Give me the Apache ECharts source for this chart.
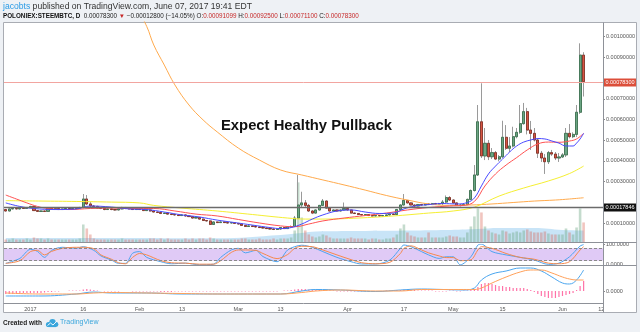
<!DOCTYPE html>
<html>
<head>
<meta charset="utf-8">
<script src="https://cdn.jsdelivr.net/npm/echarts/dist/echarts.min.js"></script>
<style>
html,body{margin:0;padding:0;background:#eef1f5;}
#c{width:640px;height:332px;}
</style>
</head>
<body>
<div id="c"></div>
<script>
// POLONIEX:STEEMBTC daily candles, 2016-12-25 .. 2017-06-07 (axis runs to 2017-06-12)
const startDate = '2016-12-25';
const dayCount = 170;

const open = [
0.000165,0.000158,0.000168,0.00017,0.000168,0.000172,0.00017,0.000175,0.00018,0.00016,
0.000156,0.000158,0.000156,0.000172,0.000168,0.00017,0.000165,0.000168,0.00017,0.000168,
0.00017,0.000172,0.000175,0.000216,0.000192,0.000182,0.00018,0.000172,0.00017,0.000165,
0.000168,0.000165,0.000163,0.000168,0.000175,0.00017,0.000168,0.000165,0.000168,0.000165,
0.00016,0.000163,0.000158,0.000153,0.000151,0.000146,0.000148,0.000143,0.000141,0.000139,
0.000136,0.000139,0.000134,0.000131,0.000124,0.000127,0.000119,0.000112,0.00011,0.000093,
0.000105,0.000102,0.000105,0.000102,0.0001,0.000102,0.000098,0.000095,0.000088,0.000083,
0.000086,0.000083,0.000081,0.000078,0.000076,0.000073,0.000071,0.000069,0.000071,0.000078,
0.000073,0.000081,0.000083,0.000124,0.000187,0.000197,0.000185,0.000158,0.000148,0.000163,
0.000185,0.000206,0.000172,0.000158,0.000163,0.000158,0.000163,0.00017,0.000163,0.000148,
0.000146,0.000141,0.000139,0.000141,0.000136,0.000134,0.000136,0.000134,0.000136,0.000139,
0.000143,0.000141,0.000165,0.000187,0.000209,0.000197,0.000187,0.000182,0.000189,0.000187,
0.000192,0.000189,0.000194,0.000192,0.000194,0.000201,0.000223,0.000211,0.000197,0.000185,
0.000187,0.000189,0.000214,0.000257,0.000332,0.000589,0.000424,0.000485,0.00042,0.00044,
0.000409,0.00042,0.000514,0.000461,0.000472,0.000517,0.000538,0.00058,0.000638,0.000549,
0.000533,0.000501,0.000437,0.000414,0.000396,0.00044,0.000433,0.000414,0.000419,0.000429,
0.000533,0.000517,0.000528,0.000635,0.00091099
];
const close = [
0.000158,0.000168,0.00017,0.000168,0.000172,0.00017,0.000175,0.00018,0.00016,0.000156,
0.000158,0.000156,0.000172,0.000168,0.00017,0.000165,0.000168,0.00017,0.000168,0.00017,
0.000172,0.000175,0.000216,0.000192,0.000182,0.00018,0.000172,0.00017,0.000165,0.000168,
0.000165,0.000163,0.000168,0.000175,0.00017,0.000168,0.000165,0.000168,0.000165,0.00016,
0.000163,0.000158,0.000153,0.000151,0.000146,0.000148,0.000143,0.000141,0.000139,0.000136,
0.000139,0.000134,0.000131,0.000124,0.000127,0.000119,0.000112,0.00011,0.000093,0.000105,
0.000102,0.000105,0.000102,0.0001,0.000102,0.000098,0.000095,0.000088,0.000083,0.000086,
0.000083,0.000081,0.000078,0.000076,0.000073,0.000071,0.000069,0.000071,0.000078,0.000073,
0.000081,0.000083,0.000124,0.000187,0.000197,0.000185,0.000158,0.000148,0.000163,0.000185,
0.000206,0.000172,0.000158,0.000163,0.000158,0.000163,0.00017,0.000163,0.000148,0.000146,
0.000141,0.000139,0.000141,0.000136,0.000134,0.000136,0.000134,0.000136,0.000139,0.000143,
0.000141,0.000165,0.000187,0.000209,0.000197,0.000187,0.000182,0.000189,0.000187,0.000192,
0.000189,0.000194,0.000192,0.000194,0.000201,0.000223,0.000211,0.000197,0.000185,0.000187,
0.000189,0.000214,0.000257,0.000332,0.000589,0.000424,0.000485,0.00042,0.00044,0.000409,
0.00042,0.000514,0.000461,0.000472,0.000517,0.000538,0.00058,0.000638,0.000549,0.000533,
0.000501,0.000437,0.000414,0.000396,0.00044,0.000433,0.000414,0.000419,0.000429,0.000533,
0.000517,0.000528,0.000635,0.000911,0.000783
];
const low = [
0.000155,0.000156,0.000166,0.000166,0.000166,0.000168,0.000168,0.000173,0.000158,0.000153,
0.000153,0.000153,0.000155,0.000165,0.000166,0.000163,0.000163,0.000166,0.000165,0.000166,
0.000168,0.00017,0.000172,0.000187,0.000177,0.000176,0.00017,0.000167,0.000162,0.000163,
0.000162,0.00016,0.000161,0.000166,0.000167,0.000165,0.000163,0.000163,0.000163,0.000158,
0.000158,0.000155,0.000151,0.000148,0.000143,0.000144,0.00014,0.000138,0.000136,0.000134,
0.000134,0.000131,0.000129,0.000122,0.000122,0.000117,0.00011,0.000107,0.00009,0.000091,
0.0001,0.0001,0.0001,0.000098,0.000098,0.000095,0.000093,0.000086,0.000081,0.000081,
0.000081,0.000078,0.000076,0.000073,0.000071,0.000068,0.000066,0.000066,0.000068,0.000071,
0.000071,0.000078,0.000081,0.000119,0.000177,0.000177,0.000153,0.000143,0.000146,0.00016,
0.000182,0.00017,0.000155,0.000156,0.000156,0.000156,0.00016,0.00016,0.000146,0.000143,
0.000138,0.000136,0.000136,0.000134,0.000131,0.000131,0.000131,0.000131,0.000134,0.000136,
0.000138,0.000139,0.000163,0.000185,0.000194,0.000185,0.000172,0.00018,0.000184,0.000185,
0.000187,0.000187,0.000189,0.000189,0.000187,0.000197,0.000206,0.000194,0.000182,0.00018,
0.000184,0.000187,0.000211,0.000252,0.000327,0.000414,0.000404,0.000404,0.000409,0.000404,
0.000398,0.000414,0.000453,0.000443,0.000465,0.000509,0.000531,0.000575,0.000528,0.000453,
0.000494,0.000414,0.000395,0.000337,0.000385,0.000424,0.000404,0.000395,0.000414,0.000419,
0.000509,0.00051,0.000515,0.000627,0.000711
];
const high = [
0.000168,0.00017,0.000173,0.000172,0.000174,0.000174,0.000177,0.000183,0.000182,0.000162,
0.00016,0.00016,0.000175,0.000174,0.000172,0.000172,0.00017,0.000172,0.000172,0.000173,
0.000175,0.000178,0.00024,0.000235,0.000201,0.000186,0.000183,0.000175,0.000172,0.00017,
0.00017,0.000167,0.00017,0.000178,0.000177,0.000172,0.00017,0.00017,0.00017,0.000167,
0.000165,0.000165,0.00016,0.000155,0.000153,0.00015,0.00015,0.000145,0.000143,0.000141,
0.000141,0.000141,0.000136,0.000133,0.000129,0.000129,0.000121,0.000114,0.000112,0.000108,
0.000107,0.000107,0.000107,0.000105,0.000105,0.000104,0.0001,0.000097,0.00009,0.000088,
0.000088,0.000086,0.000083,0.000081,0.000078,0.000076,0.000073,0.000073,0.00008,0.00008,
0.000083,0.000088,0.000134,0.000332,0.000251,0.000211,0.000192,0.000163,0.000165,0.000187,
0.000216,0.000209,0.000175,0.000165,0.000165,0.000165,0.000199,0.000172,0.000165,0.00015,
0.000148,0.000143,0.000143,0.000143,0.000139,0.000139,0.000138,0.000139,0.000141,0.000146,
0.000146,0.000168,0.00019,0.00024,0.000211,0.0002,0.00019,0.000192,0.000192,0.000194,
0.000194,0.000197,0.000197,0.000197,0.000211,0.000233,0.00023,0.000214,0.000199,0.000192,
0.000194,0.000218,0.000262,0.00038,0.00067,0.000775,0.000559,0.000501,0.000462,0.000448,
0.000428,0.000594,0.000573,0.000515,0.000565,0.000559,0.00067,0.00068,0.000656,0.000593,
0.000559,0.000509,0.000448,0.000433,0.000448,0.000453,0.000443,0.000438,0.000438,0.000559,
0.000578,0.000538,0.00067,0.000968,0.000925
];
// daily volume, BTC
const volume = [
60,60,80,60,60,60,80,60,100,80,80,60,80,60,60,60,60,60,60,60,60,80,
360,280,160,
80,60,60,60,60,60,60,60,80,60,60,60,60,
60,60,60,80,80,60,80,60,80,60,60,60,60,80,60,80,60,80,80,60,100,80,60,60,60,60,60,60,
60,80,80,60,60,60,80,60,60,60,80,60,80,80,80,100,
240,1200,500,240,160,120,100,120,160,140,100,
80,80,80,80,80,100,80,80,80,80,60,80,80,60,60,80,80,100,
160,280,360,200,140,120,
100,100,100,200,100,100,100,100,120,140,120,120,100,100,
200,320,520,680,600,320,240,
200,180,160,240,220,180,200,220,200,240,260,220,200,
200,200,220,180,160,160,160,160,
280,200,160,300,680,400
];
// volume moving average, [day index, BTC]
const volumeMA = [[0,90],[30,90],[60,85],[78,150],[84,190],[88,220],[100,230],[115,240],[125,250],[134,270],[140,290],[150,290],[158,250],[164,240]];

// moving averages on price, [day index, BTC]
const maFast = [[0,0.000197],[4,0.00018],[8,0.00017],[14,0.000165],[20,0.000168],[24,0.000182],[30,0.000177],[35,0.000168],[40,0.000165],[45,0.000153],[50,0.000139],[55,0.000129],[60,0.000114],[65,0.000102],[70,0.00009],[75,0.000078],[78,0.000073],[81,0.000078],[84,0.000095],[87,0.000119],[90,0.000139],[94,0.000158],[98,0.000163],[102,0.000153],[106,0.000146],[110,0.000148],[113,0.000168],[116,0.000182],[120,0.000189],[124,0.000194],[128,0.000192],[131,0.000199],[133,0.000221],[135,0.000279],[137,0.000337],[139,0.000375],[141,0.000409],[143,0.000443],[145,0.000472],[147,0.000491],[149,0.000501],[151,0.000508],[153,0.000506],[155,0.000496],[157,0.000486],[159,0.000472],[161,0.000472],[162,0.000486],[163,0.000506],[164,0.000533]];
const maMid = [[0,0.000235],[3,0.000216],[6,0.000197],[9,0.00018],[12,0.00017],[18,0.000165],[24,0.00017],[30,0.000172],[36,0.00017],[42,0.00017],[48,0.000158],[54,0.000143],[60,0.000134],[66,0.000117],[72,0.0001],[78,0.000086],[82,0.000082],[86,0.000095],[90,0.00011],[96,0.000124],[102,0.000136],[108,0.000148],[114,0.000163],[120,0.000175],[126,0.000182],[130,0.000185],[133,0.000204],[136,0.000279],[139,0.000337],[142,0.00038],[145,0.000416],[148,0.000453],[151,0.000482],[154,0.000491],[157,0.00049],[160,0.000496],[162,0.000506],[164,0.000533]];
const maSlow = [[0,0.000208],[10,0.000206],[20,0.000204],[30,0.000201],[38,0.000197],[42,0.000185],[50,0.000172],[60,0.000158],[70,0.000141],[80,0.000124],[85,0.000119],[90,0.000119],[100,0.000124],[110,0.000134],[120,0.000148],[127,0.000158],[133,0.000177],[140,0.00023],[147,0.000269],[154,0.000303],[160,0.000339],[164,0.000375]];
const maLong = [[36,0.00118],[40,0.00105],[42,0.00096],[45,0.000863],[48,0.000767],[52,0.00067],[56,0.000598],[60,0.00054],[66,0.000462],[72,0.000404],[78,0.000356],[84,0.000332],[90,0.000308],[96,0.000284],[102,0.000259],[108,0.000233],[114,0.000211],[120,0.000192],[126,0.000185],[132,0.000187],[138,0.000192],[144,0.000199],[150,0.000206],[156,0.000211],[160,0.000216],[164,0.000222]];
const levelLine = 0.00017846;

// Stoch RSI, [day index, value]
const stochK = [[0,7],[4,31],[7,75],[9,65],[11,36],[13,70],[16,85],[20,80],[22,88],[25,70],[27,43],[30,23],[32,7],[34,7],[36,56],[38,64],[40,36],[44,15],[47,5],[51,8],[55,0],[59,3],[61,36],[64,72],[66,80],[68,58],[71,70],[73,40],[77,15],[80,72],[82,88],[84,95],[87,85],[90,64],[94,36],[98,15],[101,4],[105,4],[109,23],[112,80],[113,96],[115,88],[118,64],[120,48],[123,31],[125,39],[127,39],[129,0],[132,39],[134,96],[135,100],[138,64],[142,48],[146,36],[150,23],[154,2],[157,8],[160,39],[163,91],[164,98]];
const stochD = [[0,7],[4,20],[7,64],[9,70],[11,48],[13,65],[16,80],[20,85],[22,85],[25,78],[27,48],[30,27],[32,10],[34,5],[36,36],[38,55],[40,48],[44,20],[47,10],[51,8],[55,3],[59,3],[61,20],[64,60],[66,72],[68,72],[71,70],[73,55],[77,30],[80,50],[82,80],[84,90],[87,88],[90,72],[94,48],[98,25],[101,10],[105,5],[109,12],[112,55],[113,80],[115,92],[118,72],[120,58],[123,43],[125,35],[127,35],[129,20],[132,24],[134,72],[135,88],[138,80],[142,55],[146,36],[150,27],[154,8],[157,5],[160,15],[163,72],[164,88]];

// MACD (12,26,9), [day index, value]
const macdLine = [[0,-0.0000208],[10,-0.0000208],[20,-0.0000125],[25,-0.0000042],[30,-0.0000083],[40,-0.0000083],[50,-0.0000125],[60,-0.0000125],[70,-0.0000125],[78,-0.0000125],[84,0],[88,0.0000063],[95,0.0000042],[105,-0.0000021],[112,0.0000042],[118,0.0000083],[124,0.0000063],[130,0.0000042],[133,0.0000125],[135,0.0000458],[138,0.0000708],[142,0.0000833],[146,0.0000958],[149,0.0000958],[152,0.0000833],[155,0.0000583],[158,0.0000333],[160,0.0000292],[162,0.0000458],[164,0.0000875]];
const signalLine = [[0,-0.0000083],[10,-0.0000125],[20,-0.0000125],[25,-0.0000083],[30,-0.0000063],[40,-0.0000083],[50,-0.0000104],[60,-0.0000125],[70,-0.0000125],[78,-0.0000125],[84,-0.0000063],[88,0],[95,0.0000042],[105,0],[112,0],[118,0.0000063],[124,0.0000063],[130,0.0000063],[133,0.0000063],[135,0.0000125],[138,0.0000333],[142,0.0000583],[146,0.0000792],[149,0.0000875],[152,0.0000875],[155,0.000075],[158,0.0000583],[160,0.00005],[162,0.0000458],[164,0.0000458]];
const macdHist = [
-1.25e-5,-1.25e-5,-1.25e-5,-1.04e-5,-1.04e-5,-8.3e-6,-8.3e-6,-8.3e-6,-8.3e-6,-8.3e-6,
-8.3e-6,-6.3e-6,-4.2e-6,-4.2e-6,-2.1e-6,-2.1e-6,0,0,2.1e-6,2.1e-6,
2.1e-6,2.1e-6,6.3e-6,8.3e-6,6.3e-6,4.2e-6,2.1e-6,0,-2.1e-6,-2.1e-6,
-2.1e-6,-2.1e-6,-2.1e-6,0,0,0,-2.1e-6,-2.1e-6,-2.1e-6,-2.1e-6,
-2.1e-6,-2.1e-6,-2.1e-6,-2.1e-6,-4.2e-6,-4.2e-6,-4.2e-6,-4.2e-6,-2.1e-6,-2.1e-6,
-2.1e-6,-2.1e-6,-2.1e-6,-2.1e-6,-2.1e-6,-2.1e-6,-2.1e-6,-2.1e-6,-2.1e-6,-2.1e-6,
-2.1e-6,-2.1e-6,-2.1e-6,-2.1e-6,-2.1e-6,-2.1e-6,-2.1e-6,-2.1e-6,-2.1e-6,-2.1e-6,
-2.1e-6,-2.1e-6,-2.1e-6,-2.1e-6,-2.1e-6,-2.1e-6,-2.1e-6,-2.1e-6,0,2.1e-6,
2.1e-6,4.2e-6,6.3e-6,8.3e-6,8.3e-6,8.3e-6,6.3e-6,6.3e-6,4.2e-6,4.2e-6,
2.1e-6,2.1e-6,2.1e-6,2.1e-6,-2.1e-6,-2.1e-6,-2.1e-6,-2.1e-6,-2.1e-6,-2.1e-6,
-2.1e-6,-2.1e-6,-2.1e-6,-2.1e-6,-2.1e-6,-2.1e-6,-2.1e-6,-2.1e-6,2.1e-6,2.1e-6,
2.1e-6,4.2e-6,4.2e-6,6.3e-6,6.3e-6,4.2e-6,4.2e-6,2.1e-6,2.1e-6,2.1e-6,
2.1e-6,2.1e-6,-2.1e-6,-2.1e-6,-2.1e-6,-2.1e-6,2.1e-6,2.1e-6,-2.1e-6,-2.1e-6,
2.1e-6,2.1e-6,4.2e-6,8.3e-6,1.67e-5,2.92e-5,3.33e-5,3.33e-5,2.92e-5,2.5e-5,
2.08e-5,2.08e-5,1.67e-5,1.67e-5,1.25e-5,1.25e-5,1.25e-5,1.25e-5,8.3e-6,4.2e-6,
-4.2e-6,-1.25e-5,-2.08e-5,-2.5e-5,-2.92e-5,-2.92e-5,-2.92e-5,-2.5e-5,-2.08e-5,-1.67e-5,
-1.25e-5,-8.3e-6,4.2e-6,2.08e-5,4.17e-5
];

// axis ticks
const priceTicks = [0.0001,0.0003,0.0004,0.0005,0.0006,0.0007,0.0009,0.001];
const timeTickDates = ['2017-01-01','2017-01-16','2017-02-01','2017-02-13','2017-03-01','2017-03-13','2017-04-01','2017-04-17','2017-05-01','2017-05-15','2017-06-01','2017-06-12'];
const timeTickText  = ['2017','16','Feb','13','Mar','13','Apr','17','May','15','Jun','12'];

// ---- build ----
const categories = [];
(function () {
  const t0 = Date.parse(startDate + 'T00:00:00Z');
  for (let k = 0; k < dayCount; k++) categories.push(new Date(t0 + k * 86400000).toISOString().slice(0, 10));
})();
const last = close.length - 1;
const wickData = open.map((o, k) => [o, close[k], low[k], high[k]]);
const bodyData = open.map((o, k) => [o, close[k], Math.min(o, close[k]), Math.max(o, close[k])]);
const volData = volume.map((v, k) => ({
  value: v,
  itemStyle: { color: close[k] >= open[k] ? 'rgba(107,165,131,0.4)' : 'rgba(215,84,66,0.34)' }
}));

const fmt8 = v => v.toFixed(8);
const chg = close[last] - close[last - 1];
const chgPct = chg / close[last - 1] * 100;
const minus = s => s.replace('-', '\u2212');

const FONT = 'Liberation Sans, Arial, sans-serif';
const L = 4, R = 37, W = 640;
const plotRight = W - R;

const chart = echarts.init(document.getElementById('c'), null, { renderer: 'canvas', width: 640, height: 332 });

const hiddenX = i => ({ type: 'category', gridIndex: i, data: categories, boundaryGap: true, show: false });

const frame = [
  { type: 'rect', z: -10, silent: true, shape: { x: 3.5, y: 22.5, width: 633, height: 290 }, style: { fill: '#fff', stroke: '#a9acb3', lineWidth: 1 } },
  { type: 'line', z: 50, silent: true, shape: { x1: 603.5, y1: 22.5, x2: 603.5, y2: 312.5 }, style: { stroke: '#8e9198', lineWidth: 1 } },
  { type: 'line', z: 50, silent: true, shape: { x1: 3.5, y1: 242.5, x2: 636.5, y2: 242.5 }, style: { stroke: '#8e9198', lineWidth: 1 } },
  { type: 'line', z: 50, silent: true, shape: { x1: 3.5, y1: 265.5, x2: 636.5, y2: 265.5 }, style: { stroke: '#8e9198', lineWidth: 1 } },
  { type: 'line', z: 50, silent: true, shape: { x1: 3.5, y1: 303.5, x2: 603.5, y2: 303.5 }, style: { stroke: '#8e9198', lineWidth: 1 } },
  { type: 'rect', z: 60, silent: true, shape: { x: 604, y: 304, width: 32, height: 8 }, style: { fill: '#fff' } },
  // header
  {
    type: 'text', z: 50, x: 3, y: 2.5, silent: true,
    style: {
      text: '{u|jacobts} published on TradingView.com, June 07, 2017 19:41 EDT',
      font: '8.6px ' + FONT, fill: '#333', verticalAlign: 'top',
      rich: { u: { fill: '#2a9be6', font: '8.6px ' + FONT } }
    }
  },
  {
    type: 'text', z: 50, x: 3, y: 13.5, silent: true,
    style: {
      text: '{b|POLONIEX:STEEMBTC, D}  ' + fmt8(close[last]) + ' {r|\u25BC} ' + minus(fmt8(chg)) + ' (' + minus(chgPct.toFixed(2)) + '%) ' +
            'O:{r|' + fmt8(open[last]) + '} H:{r|' + fmt8(high[last]) + '} L:{r|' + fmt8(low[last]) + '} C:{r|' + fmt8(close[last]) + '}',
      font: '6.3px ' + FONT, fill: '#222', verticalAlign: 'top',
      rich: {
        b: { font: 'bold 6.3px ' + FONT, fill: '#111' },
        r: { font: '6.3px ' + FONT, fill: '#c62828' }
      }
    }
  },
  // annotation
  {
    type: 'text', z: 50, x: 221, y: 118.5, silent: true,
    style: { text: 'Expect Healthy Pullback', font: 'bold 14.8px ' + FONT, fill: '#111', verticalAlign: 'top' }
  },
  // footer
  {
    type: 'text', z: 50, x: 3, y: 319.5, silent: true,
    style: { text: 'Created with', font: 'bold 6.5px ' + FONT, fill: '#222', verticalAlign: 'top' }
  },
  { type: 'circle', z: 50, silent: true, shape: { cx: 48.5, cy: 324.5, r: 2.6 }, style: { fill: '#3aa6dc' } },
  { type: 'circle', z: 50, silent: true, shape: { cx: 52.5, cy: 322.3, r: 3.2 }, style: { fill: '#3aa6dc' } },
  { type: 'circle', z: 50, silent: true, shape: { cx: 56, cy: 324.5, r: 2.4 }, style: { fill: '#3aa6dc' } },
  { type: 'rect', z: 50, silent: true, shape: { x: 48.5, y: 324, width: 7.5, height: 3.1 }, style: { fill: '#3aa6dc' } },
  {
    type: 'polyline', z: 51, silent: true,
    shape: { points: [[47.5, 325.5], [50.5, 323], [53, 325], [56.5, 321.5]] },
    style: { stroke: '#fff', lineWidth: 0.9, fill: null }
  },
  {
    type: 'text', z: 50, x: 60, y: 319, silent: true,
    style: { text: 'TradingView', font: '7px ' + FONT, fill: '#3aa6dc', verticalAlign: 'top' }
  }
];

chart.setOption({
  animation: false,
  backgroundColor: '#eef1f5',
  grid: [
    { left: L, right: R, top: 22, height: 221.7, outerBoundsMode: 'none', containLabel: false },
    { left: L, right: R, top: 22, height: 220.5, outerBoundsMode: 'none', containLabel: false },
    { left: L, right: R, top: 244.2, height: 20.6, outerBoundsMode: 'none', containLabel: false },
    { left: L, right: R, top: 267, height: 36, outerBoundsMode: 'none', containLabel: false }
  ],
  xAxis: [
    hiddenX(0), hiddenX(1), hiddenX(2),
    {
      type: 'category', gridIndex: 3, data: categories, boundaryGap: true,
      axisLine: { show: false }, axisTick: { show: false },
      axisLabel: {
        interval: (idx, val) => timeTickDates.indexOf(val) >= 0,
        formatter: val => timeTickText[timeTickDates.indexOf(val)],
        fontSize: 5.5, color: '#555', margin: 3, fontFamily: FONT
      }
    }
  ],
  yAxis: [
    {
      type: 'value', gridIndex: 0, position: 'right', min: 0, max: 0.001071,
      splitLine: { show: false }, axisLine: { show: false },
      axisTick: { show: true, customValues: priceTicks, length: 2, lineStyle: { color: '#888' } },
      axisLabel: { customValues: priceTicks, formatter: fmt8, fontSize: 5.5, color: '#555', margin: 3, fontFamily: FONT }
    },
    { type: 'value', gridIndex: 1, min: 0, max: 4400, show: false },
    {
      type: 'value', gridIndex: 2, position: 'right', min: 0, max: 100,
      splitLine: { show: false }, axisLine: { show: false },
      axisTick: { show: true, customValues: [0, 100], length: 2, lineStyle: { color: '#888' } },
      axisLabel: { customValues: [0, 100], formatter: v => v.toFixed(4), fontSize: 5.5, color: '#555', margin: 3, fontFamily: FONT }
    },
    {
      type: 'value', gridIndex: 3, position: 'right', min: -0.00005, max: 0.0001,
      splitLine: { show: false }, axisLine: { show: false },
      axisTick: { show: true, customValues: [0], length: 2, lineStyle: { color: '#888' } },
      axisLabel: { customValues: [0], formatter: v => v.toFixed(4), fontSize: 5.5, color: '#555', margin: 3, fontFamily: FONT }
    }
  ],
  series: [
    // volume
    { type: 'bar', xAxisIndex: 1, yAxisIndex: 1, data: volData, barWidth: 2.6, z: 1 },
    {
      type: 'line', xAxisIndex: 1, yAxisIndex: 1, data: volumeMA, smooth: 0.4, symbol: 'none', z: 1,
      lineStyle: { width: 0 }, areaStyle: { color: 'rgba(90,175,232,0.48)', origin: 'start' }
    },
    // candles: wicks, then bodies
    {
      type: 'candlestick', xAxisIndex: 0, yAxisIndex: 0, data: wickData, barWidth: 2.6, z: 2,
      itemStyle: { color: 'rgba(0,0,0,0)', color0: 'rgba(0,0,0,0)', borderColor: '#9a9a9a', borderColor0: '#9a9a9a', borderColorDoji: '#9a9a9a', borderWidth: 1 }
    },
    {
      type: 'candlestick', xAxisIndex: 0, yAxisIndex: 0, data: bodyData, barWidth: 2.6, z: 3,
      itemStyle: { color: '#6ba583', color0: '#d75442', borderColor: '#2f6a45', borderColor0: '#7a2418', borderColorDoji: '#555', borderWidth: 0.7 }
    },
    // moving averages
    { type: 'line', xAxisIndex: 0, yAxisIndex: 0, data: maLong, smooth: 0.4, symbol: 'none', z: 4, lineStyle: { color: '#ffaa4d', width: 1 } },
    { type: 'line', xAxisIndex: 0, yAxisIndex: 0, data: maSlow, smooth: 0.4, symbol: 'none', z: 4, lineStyle: { color: '#f5ef32', width: 1 } },
    { type: 'line', xAxisIndex: 0, yAxisIndex: 0, data: maMid, smooth: 0.4, symbol: 'none', z: 4, lineStyle: { color: '#ff5252', width: 1 } },
    { type: 'line', xAxisIndex: 0, yAxisIndex: 0, data: maFast, smooth: 0.4, symbol: 'none', z: 4, lineStyle: { color: '#4a4aff', width: 1 } },
    // Stoch RSI
    {
      type: 'line', xAxisIndex: 2, yAxisIndex: 2, data: stochK, smooth: 0.3, symbol: 'none', z: 4,
      lineStyle: { color: '#4ea4ef', width: 1 },
      markArea: { silent: true, itemStyle: { color: 'rgba(165,100,230,0.34)' }, data: [[{ yAxis: 20 }, { yAxis: 80 }]] },
      markLine: {
        symbol: 'none', silent: true, label: { show: false },
        lineStyle: { color: '#8a8a8a', type: [3, 2], width: 1 },
        data: [{ yAxis: 20 }, { yAxis: 80 }]
      }
    },
    { type: 'line', xAxisIndex: 2, yAxisIndex: 2, data: stochD, smooth: 0.3, symbol: 'none', z: 4, lineStyle: { color: '#f5894d', width: 1 } },
    // MACD
    { type: 'bar', xAxisIndex: 3, yAxisIndex: 3, data: macdHist, barWidth: 1.2, itemStyle: { color: '#ff73a8' }, z: 2 },
    { type: 'line', xAxisIndex: 3, yAxisIndex: 3, data: macdLine, smooth: 0.4, symbol: 'none', z: 4, lineStyle: { color: '#4ba6ef', width: 1 } },
    { type: 'line', xAxisIndex: 3, yAxisIndex: 3, data: signalLine, smooth: 0.4, symbol: 'none', z: 4, lineStyle: { color: '#ffa15a', width: 1 } }
  ],
  graphic: frame
});

// last-price and level lines with their axis tags, placed through the price axis scale
function priceLevel(value, lineColor, lineWidth, tagColor) {
  const y = Math.round(chart.convertToPixel({ yAxisIndex: 0 }, value)) + 0.5;
  return [
    { type: 'line', z: 5, silent: true, shape: { x1: L, y1: y, x2: plotRight, y2: y }, style: { stroke: lineColor, lineWidth: lineWidth } },
    { type: 'rect', z: 70, silent: true, shape: { x: plotRight + 1, y: y - 4, width: 32, height: 8 }, style: { fill: tagColor } },
    { type: 'text', z: 71, silent: true, x: plotRight + 17, y: y + 0.3, style: { text: fmt8(value), font: '5.5px ' + FONT, fill: '#fff', align: 'center', verticalAlign: 'middle' } }
  ];
}
chart.setOption({
  graphic: frame
    .concat(priceLevel(close[last], '#f2a5a0', 1, '#dc4e3a'))
    .concat(priceLevel(levelLine, '#6b6b6b', 1.4, '#111'))
});
</script>
</body>
</html>
